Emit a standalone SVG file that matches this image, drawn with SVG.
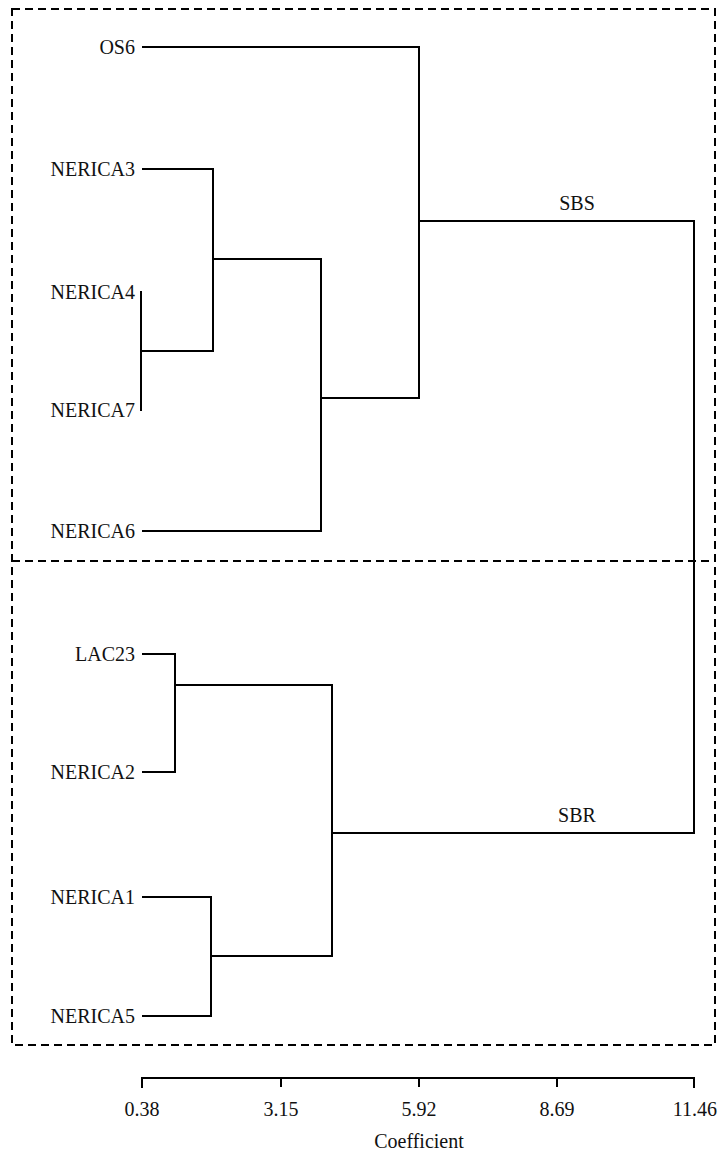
<svg xmlns="http://www.w3.org/2000/svg" width="719" height="1154" viewBox="0 0 719 1154">
<style>
.lbl{font-family:"Liberation Serif","Times New Roman",serif;font-size:20px;fill:#111;}
.end{text-anchor:end;}
.mid{text-anchor:middle;}
.tree{fill:none;stroke:#000;stroke-width:2;stroke-linecap:square;}
.box{fill:none;stroke:#000;stroke-width:2;stroke-dasharray:8,5;}
</style>
<rect width="719" height="1154" fill="#fff"/>
<g id="frames">
<rect class="box" x="12" y="9" width="703" height="1036"/>
<line class="box" x1="12" y1="561" x2="715" y2="561"/>
</g>
<g id="leaf-OS6"><text class="lbl end" x="135" y="54">OS6</text></g>
<g id="leaf-NERICA3"><text class="lbl end" x="135" y="176">NERICA3</text></g>
<g id="leaf-NERICA4"><text class="lbl end" x="135" y="299">NERICA4</text></g>
<g id="leaf-NERICA7"><text class="lbl end" x="135" y="417">NERICA7</text></g>
<g id="leaf-NERICA6"><text class="lbl end" x="135" y="538">NERICA6</text></g>
<g id="leaf-LAC23"><text class="lbl end" x="135" y="661">LAC23</text></g>
<g id="leaf-NERICA2"><text class="lbl end" x="135" y="779">NERICA2</text></g>
<g id="leaf-NERICA1"><text class="lbl end" x="135" y="904">NERICA1</text></g>
<g id="leaf-NERICA5"><text class="lbl end" x="135" y="1023">NERICA5</text></g>
<g id="cluster-SBS"><text class="lbl mid" x="577" y="210">SBS</text></g>
<g id="cluster-SBR"><text class="lbl mid" x="577" y="822">SBR</text></g>
<g id="connectors">
<polyline class="tree" points="143,47 419,47 419,398 321,398"/>
<polyline class="tree" points="143,169 213,169 213,351 141,351"/>
<line class="tree" x1="141" y1="292" x2="141" y2="410"/>
<polyline class="tree" points="213,259 321,259 321,531 143,531"/>
<polyline class="tree" points="419,221 694,221 694,833 332,833"/>
<polyline class="tree" points="143,654 175,654 175,772 143,772"/>
<polyline class="tree" points="175,685 332,685 332,956 211,956"/>
<polyline class="tree" points="143,897 211,897 211,1016 143,1016"/>
</g>
<g id="axis">
<line class="tree" x1="142" y1="1078" x2="694" y2="1078"/>
<path class="tree" d="M142,1078V1087M281,1078V1086M419,1078V1086M557,1078V1086M694,1078V1087"/>
<text class="lbl mid" x="142" y="1116">0.38</text>
<text class="lbl mid" x="281" y="1116">3.15</text>
<text class="lbl mid" x="419" y="1116">5.92</text>
<text class="lbl mid" x="557" y="1116">8.69</text>
<text class="lbl mid" x="695" y="1116">11.46</text>
<text class="lbl mid" x="419" y="1148">Coefficient</text>
</g>
</svg>
